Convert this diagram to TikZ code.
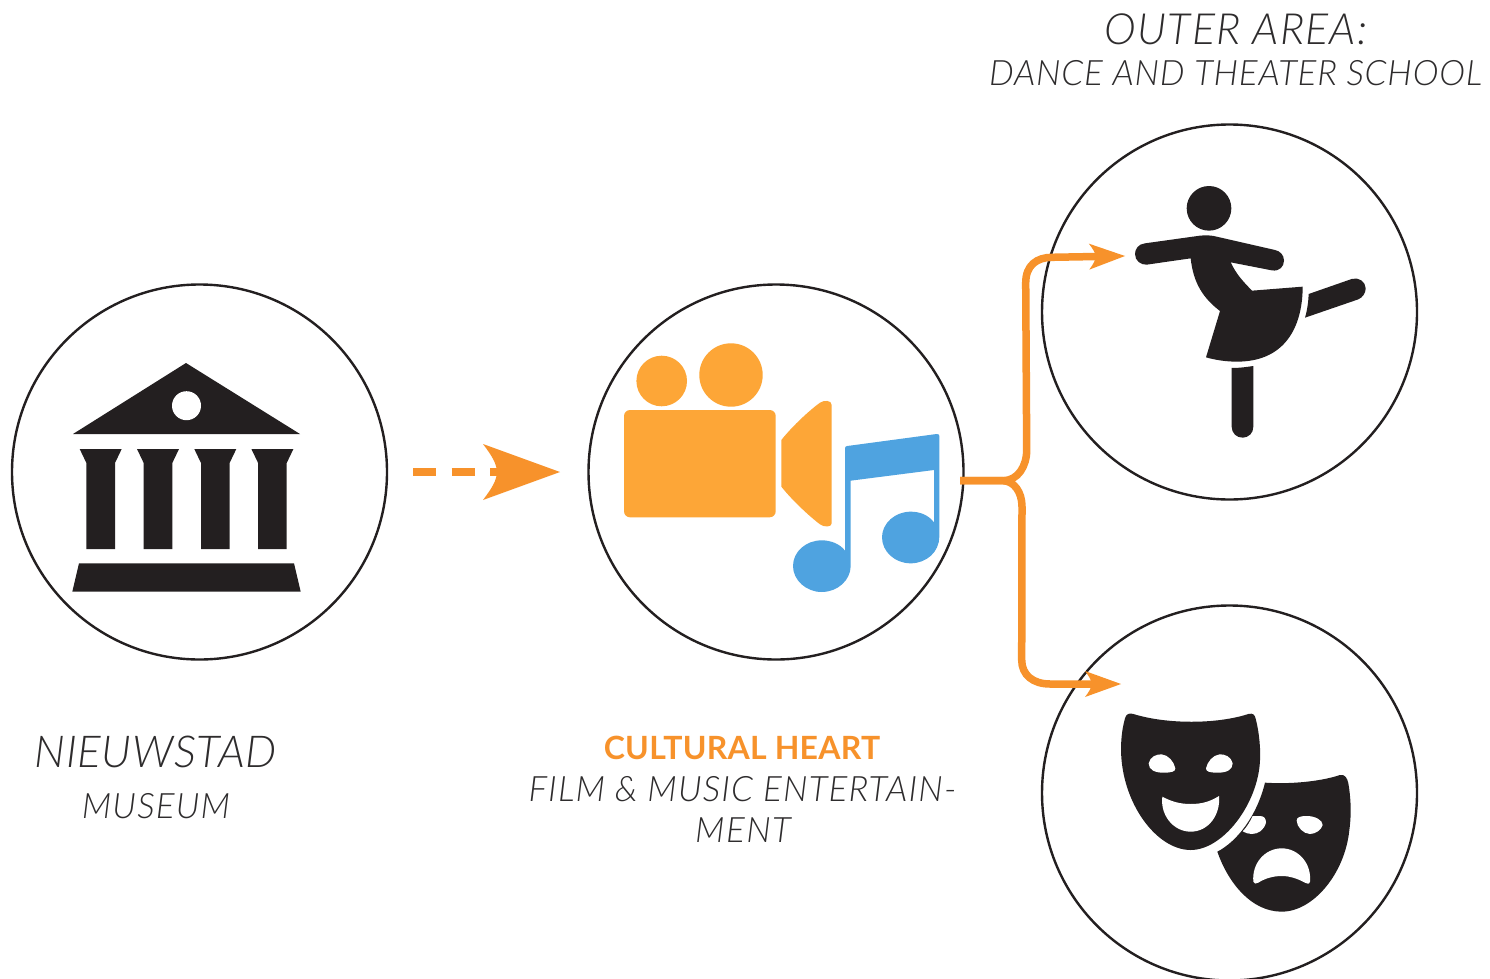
\documentclass[tikz,border=0pt]{standalone}
\usepackage{fontspec}
\setmainfont{Lato}[ItalicFont={Lato Light Italic},BoldFont={Lato Bold}]
\usetikzlibrary{arrows.meta}
\definecolor{ink}{HTML}{231F20}
\definecolor{txt}{HTML}{2E2C2D}
\definecolor{flow}{HTML}{F7922B}
\definecolor{camcol}{HTML}{FDA637}
\definecolor{notecol}{HTML}{4FA3E0}
\makeatletter
\pgfdeclarearrow{
  name=SweptHead,
  defaults={length=36pt,width=26pt},
  setup code={
    \pgfarrowssettipend{\pgfarrowlength}
    \pgfarrowssetbackend{0pt}
    \pgfarrowssetlineend{.25\pgfarrowlength}
    \pgfarrowssavethe\pgfarrowlength
    \pgfarrowssavethe\pgfarrowwidth
  },
  parameters={\the\pgfarrowlength,\the\pgfarrowwidth},
  drawing code={
    \pgfpathmoveto{\pgfqpoint{\pgfarrowlength}{0pt}}
    \pgfpathlineto{\pgfqpoint{0pt}{.5\pgfarrowwidth}}
    \pgfpathcurveto{\pgfqpoint{.11\pgfarrowlength}{.3\pgfarrowwidth}}{\pgfqpoint{.18\pgfarrowlength}{.15\pgfarrowwidth}}{\pgfqpoint{.18\pgfarrowlength}{0pt}}
    \pgfpathcurveto{\pgfqpoint{.18\pgfarrowlength}{-.15\pgfarrowwidth}}{\pgfqpoint{.11\pgfarrowlength}{-.3\pgfarrowwidth}}{\pgfqpoint{0pt}{-.5\pgfarrowwidth}}
    \pgfpathclose
    \pgfusepathqfill
  }
}
\makeatother
\newcommand{\lblfont}[2]{\itshape\fontsize{#1pt}{#1pt}\selectfont\addfontfeature{LetterSpace=#2}}
\tikzset{
  ring/.style={circle,draw=ink,line width=2.4pt,minimum size=375pt,inner sep=0pt},
  glyph/.style={fill=ink,draw=none},
  flowline/.style={draw=flow,line width=7.5pt},
  lbl/.style={inner sep=0pt,text=txt},
  hearttitle/.style={inner sep=0pt,text=flow,font=\bfseries\fontsize{32pt}{36pt}\selectfont\addfontfeature{LetterSpace=0.8}}
}
\begin{document}
\begin{tikzpicture}[x=1pt,y=-1pt]
\useasboundingbox (0,0) rectangle (1490,979);
\fill[white] (0,0) rectangle (1490,979);
% rings
\node[ring] (museum) at (199.5,472) {};
\node[ring] (heart) at (776,472) {};
\node[ring] (dance) at (1229.5,312) {};
\node[ring] (theatre) at (1229.5,793) {};
% museum icon
\fill[glyph] (186,363) -- (73,434) -- (300,434) -- cycle;
\fill[white] (186.5,405.7) circle[radius=14.5];
\foreach \cx in {100.7,158,215.3,272.4}{
  \fill[glyph] (\cx-21,449) -- (\cx+21,449) -- (\cx+14.3,463) -- (\cx+14.3,549) -- (\cx-14.3,549) -- (\cx-14.3,463) -- cycle;
}
\fill[glyph] (79,563.3) -- (294,563.3) -- (300.7,591.7) -- (72.3,591.7) -- cycle;
% camera icon
\fill[camcol] (661.7,381) circle[radius=25.3];
\fill[camcol] (731,375) circle[radius=31.7];
\fill[camcol,rounded corners=6pt] (624,410) rectangle (775.7,517.3);
\begin{scope}[shift={(610,330)},scale=1/3]
\fill[camcol] (514,330) .. controls (550,285) and (600,240) .. (630,218) .. controls (642,210) and (665,210) .. (665,225) -- (665,580) .. controls (665,592) and (642,592) .. (630,583) .. controls (600,560) and (550,515) .. (514,470) -- cycle;
% notes
\fill[notecol] (705,355) .. controls (705,350) and (708,348) .. (712,348) -- (980,312) .. controls (986,312) and (988,314) .. (988,318) -- (988,620) .. controls (988,665) and (950,700) .. (902,700) .. controls (855,700) and (816,665) .. (816,622) .. controls (816,580) and (855,545) .. (902,545) .. controls (930,545) and (955,555) .. (972,577) -- (972,420) -- (722,452) -- (722,708) .. controls (722,750) and (683,786) .. (635,786) .. controls (588,786) and (549,750) .. (549,708) .. controls (549,665) and (588,631) .. (635,631) .. controls (663,631) and (690,642) .. (705,662) -- cycle;
\end{scope}
% dancer icon
\begin{scope}[shift={(1100,170)},scale=1/3]
\fill[glyph] (327,115) circle[radius=67];
\fill[glyph] (135,220) -- (300,197) .. controls (318,195) and (335,196) .. (350,200) -- (525,240) .. controls (540,243) and (552,255) .. (552,272) .. controls (552,290) and (538,305) .. (515,301) -- (392,277) .. controls (410,315) and (430,335) .. (456,362) -- (608,350) .. controls (608,450) and (570,575) .. (410,575) .. controls (380,575) and (345,570) .. (318,562) -- (360,423) .. controls (310,385) and (280,340) .. (272,265) -- (140,284) .. controls (122,285) and (105,272) .. (105,252) .. controls (105,237) and (115,222) .. (135,220) -- cycle;
\fill[glyph] (626,372) -- (755,327) .. controls (775,320) and (797,335) .. (797,355) .. controls (797,370) and (788,382) .. (775,388) -- (615,443) .. controls (622,420) and (625,395) .. (626,372) -- cycle;
\fill[glyph] (395,594) .. controls (420,594) and (440,591) .. (460,588) -- (460,770) .. controls (460,790) and (445,803) .. (428,803) .. controls (410,803) and (395,790) .. (395,770) -- cycle;
\end{scope}
% masks icon
\begin{scope}[shift={(1100,690)},scale=1/3]
\fill[glyph] (495,278) .. controls (570,283) and (660,275) .. (720,255) .. controls (735,252) and (742,265) .. (745,280) .. controls (752,320) and (755,370) .. (748,420) .. controls (735,550) and (640,665) .. (545,665) .. controls (455,665) and (385,580) .. (352,485) .. controls (410,455) and (470,380) .. (495,278) -- cycle;
\fill[white] (458,378) -- (480,378) .. controls (492,378) and (498,385) .. (498,398) .. controls (492,420) and (475,432) .. (455,432) .. controls (445,432) and (435,428) .. (428,424) .. controls (440,412) and (450,395) .. (458,378) -- cycle;
\fill[white] (590,392) .. controls (590,382) and (600,378) .. (620,378) .. controls (645,378) and (668,390) .. (668,405) .. controls (665,420) and (645,432) .. (630,432) .. controls (610,432) and (590,410) .. (590,392) -- cycle;
\fill[white] (460,575) .. controls (455,520) and (495,475) .. (545,475) .. controls (595,475) and (635,520) .. (630,575) .. controls (628,585) and (620,580) .. (615,578) .. controls (590,565) and (570,558) .. (545,558) .. controls (520,558) and (495,565) .. (475,578) .. controls (468,582) and (462,582) .. (460,575) -- cycle;
\fill[glyph] (100,72) .. controls (200,103) and (350,103) .. (445,72) .. controls (460,68) and (465,75) .. (468,90) .. controls (478,130) and (482,180) .. (480,210) .. controls (475,340) and (370,480) .. (272,480) .. controls (170,480) and (65,340) .. (63,180) .. controls (63,140) and (68,110) .. (75,85) .. controls (78,72) and (88,68) .. (100,72) -- cycle;
\fill[white] (146,220) .. controls (150,200) and (170,192) .. (185,193) .. controls (205,195) and (222,215) .. (226,235) .. controls (226,245) and (215,248) .. (190,248) .. controls (165,248) and (146,240) .. (146,220) -- cycle;
\fill[white] (398,220) .. controls (394,200) and (374,192) .. (359,193) .. controls (339,195) and (322,215) .. (318,235) .. controls (318,245) and (329,248) .. (354,248) .. controls (379,248) and (398,240) .. (398,220) -- cycle;
\fill[white] (187,320) .. controls (215,335) and (240,342) .. (272,342) .. controls (305,342) and (330,335) .. (357,318) .. controls (362,375) and (325,425) .. (272,425) .. controls (220,425) and (180,375) .. (187,320) -- cycle;
\end{scope}
% connectors
\coordinate (dashstart) at (413,472);
\coordinate (dashend) at (560,472);
\coordinate (hub) at (960,480.7);
\coordinate (dancetip) at (1125,256);
\coordinate (theatretip) at (1121,684);
\draw[flowline,dash pattern=on 23pt off 15.5pt,-{SweptHead[length=77pt,width=56pt]},flow] (dashstart) -- (dashend);
\draw[flowline,-{SweptHead[length=36pt,width=26pt]},flow] (hub) -- (1003,480.7) .. controls (1018,480.7) and (1026.7,466) .. (1026.7,450) -- (1025.7,283) .. controls (1025.7,265) and (1037,257.5) .. (1051.7,257.3) -- (dancetip);
\draw[flowline,-{SweptHead[length=36pt,width=26pt]},flow] (hub) -- (1003,480.7) .. controls (1014,481) and (1022,492) .. (1022,506.7) -- (1021.7,660) .. controls (1021.7,675) and (1033,684) .. (1050,684) -- (theatretip);
% labels
\node[lbl,font=\lblfont{43}{2.8}] (outer) at (1236,29) {OUTER AREA:};
\node[lbl,font=\lblfont{35}{2.1}] (school) at (1235.5,73) {DANCE AND THEATER SCHOOL};
\node[lbl,font=\lblfont{44}{1.5}] (nieuw) at (155.5,752) {NIEUWSTAD};
\node[lbl,font=\lblfont{35}{3.3}] (mus) at (156,806) {MUSEUM};
\node[hearttitle] (cult) at (742,748) {CULTURAL HEART};
\node[lbl,font=\lblfont{35}{3.2}] (film) at (742.5,789) {FILM \& MUSIC ENTERTAIN-};
\node[lbl,font=\lblfont{35}{3.8}] (ment) at (743,830) {MENT};
\end{tikzpicture}
\end{document}
